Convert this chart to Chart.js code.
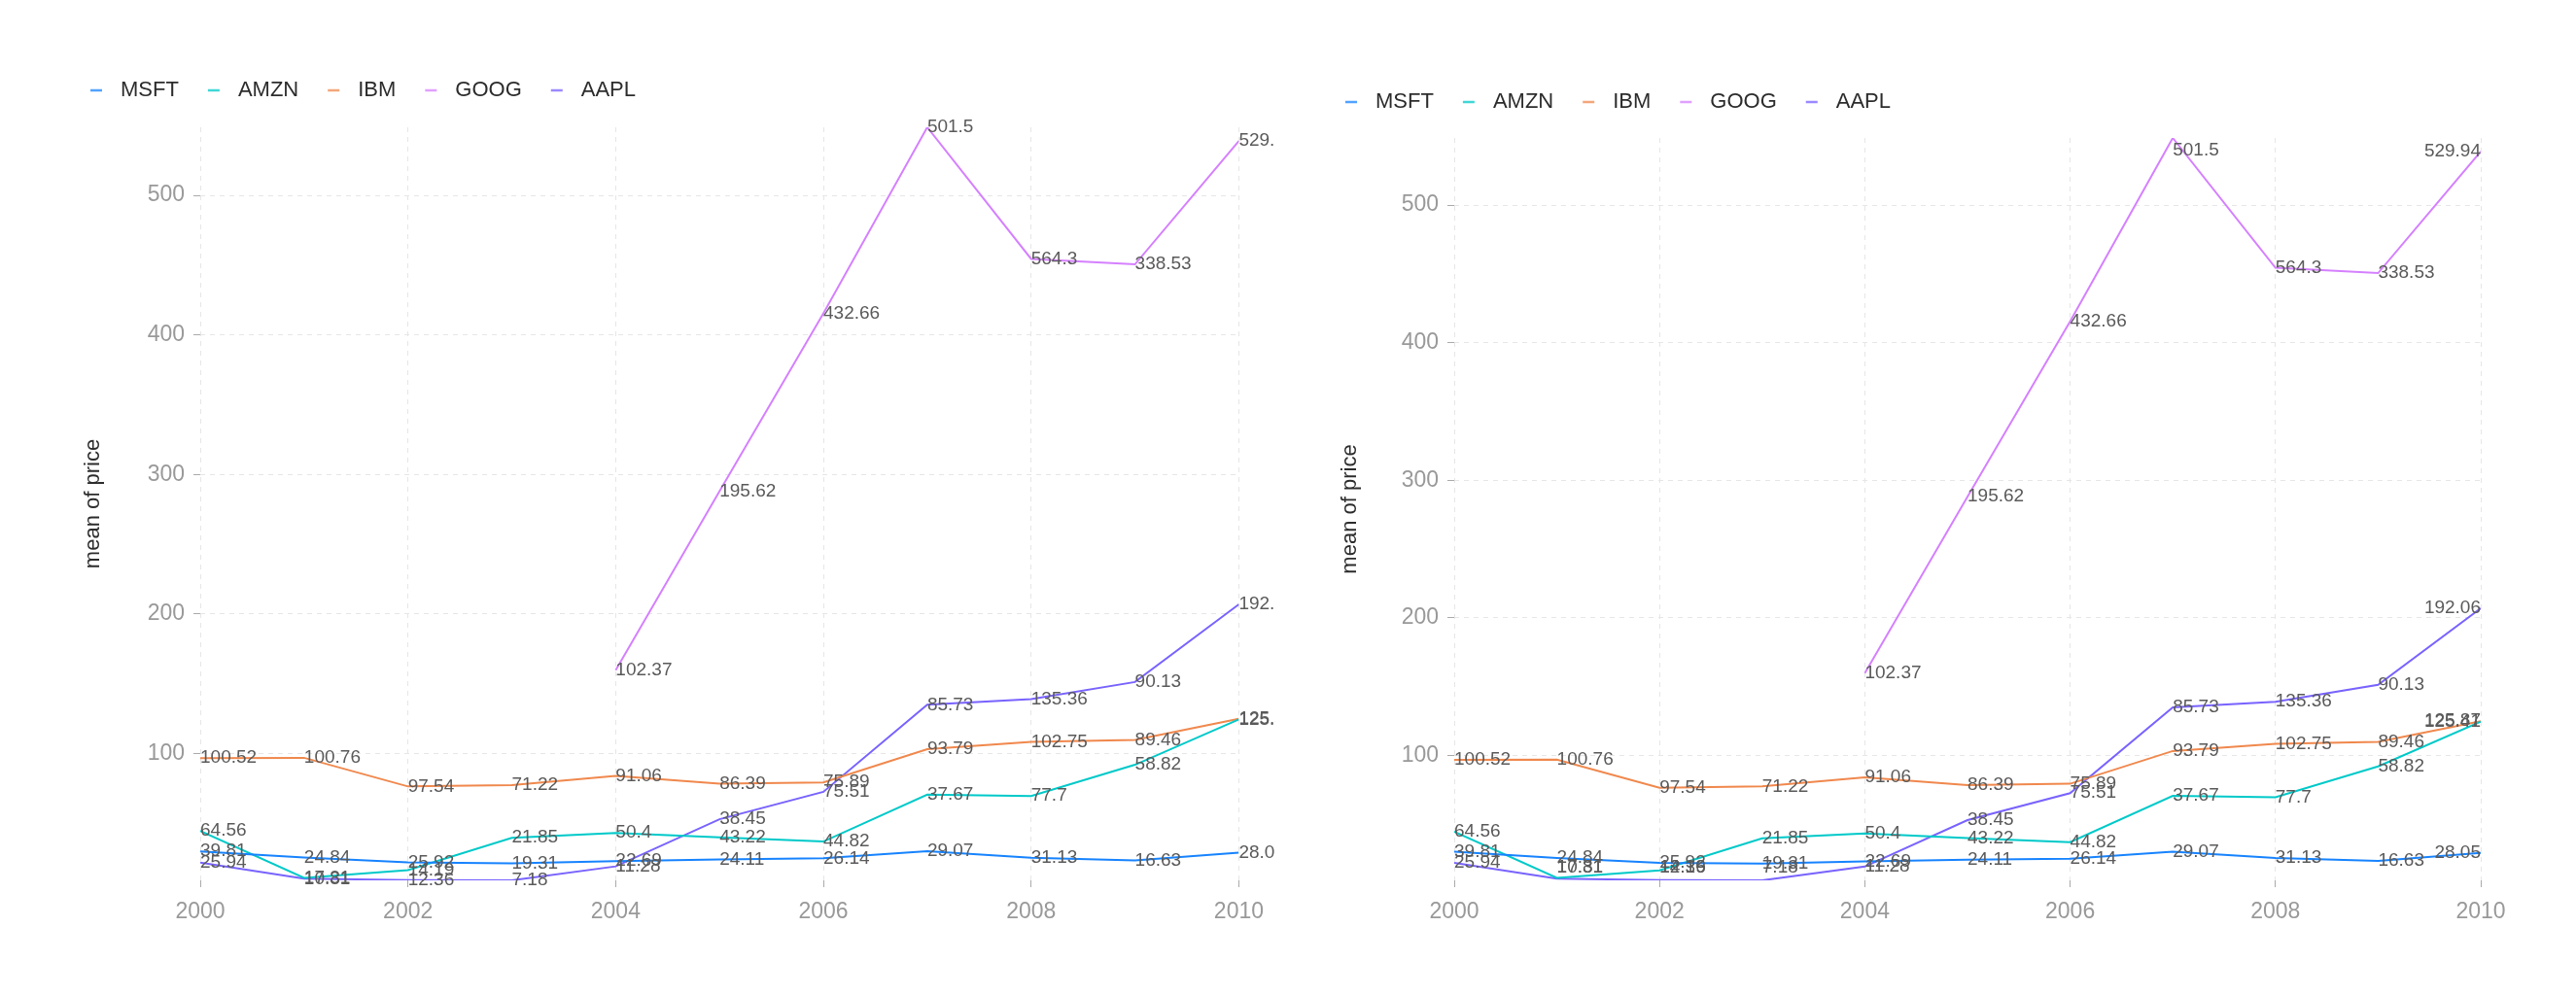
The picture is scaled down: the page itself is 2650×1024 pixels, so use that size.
<!DOCTYPE html>
<html lang="en">
<head>
  <meta charset="UTF-8" />
  <title>mean of price</title>
  <script src="https://cdn.jsdelivr.net/npm/chart.js@4"></script>
  <style>
    body { margin: 0; background: #fff; width: 2650px; height: 1024px; position: relative; overflow: hidden; }
    .box { position: absolute; top: 0; }
  </style>
</head>
<body>
  <div class="box" style="left:0"><canvas id="chartLeft" width="1312" height="1024"></canvas></div>
  <div class="box" style="left:1325px"><canvas id="chartRight" width="1325" height="1024"></canvas></div>

<script>
// years on the x axis
const years = [2000, 2001, 2002, 2003, 2004, 2005, 2006, 2007, 2008, 2009, 2010];
const xTicks = [2000, 2002, 2004, 2006, 2008, 2010];
const yTicks = [100, 200, 300, 400, 500];

const series = ['MSFT', 'AMZN', 'IBM', 'GOOG', 'AAPL'];
const colors = ['#1783FF', '#00C9C9', '#F0884D', '#D580FF', '#7863FF'];

// mean of price per year (line positions)
const msftMean = [30, 25.5, 22, 21.3, 23, 24.2, 25, 30, 25.4, 23.4, 29.1];
const amznMean = [44.6, 11, 16.5, 39.7, 43.2, 40, 37, 70.6, 69.6, 92, 124.5];
const ibmMean  = [96.8, 97, 76.5, 77.5, 84, 78.4, 79.4, 103.2, 108.4, 109.8, 124.9];
const googMean = [null, null, null, null, 159.8, 288, 415.5, 548.8, 454.5, 450.6, 539];
const aaplMean = [22, 10.4, 9.4, 9.2, 19.2, 53, 72.6, 135, 139, 151.3, 206.9];

// texts written next to each point
const msftText = ['39.81', '24.84', '25.92', '19.31', '22.69', '24.11', '26.14', '29.07', '31.13', '16.63', '28.05'];
const amznText = ['64.56', '17.31', '14.19', '21.85', '50.4', '43.22', '44.82', '37.67', '77.7', '58.82', '125.41'];
const ibmText  = ['100.52', '100.76', '97.54', '71.22', '91.06', '86.39', '75.89', '93.79', '102.75', '89.46', '125.87'];
const googText = [null, null, null, null, '102.37', '195.62', '432.66', '501.5', '564.3', '338.53', '529.94'];
const aaplText = ['25.94', '10.81', '12.36', '7.18', '11.28', '38.45', '75.51', '85.73', '135.36', '90.13', '192.06'];

const means = [msftMean, amznMean, ibmMean, googMean, aaplMean];
const texts = [msftText, amznText, ibmText, googText, aaplText];

const allVals = means.flat().filter(v => v != null);
const yMin = Math.min(...allVals);
const yMax = Math.max(...allVals);

const FONT = '"Liberation Sans", Arial, sans-serif';

// legend drawn by hand: short line + name
const topLegend = {
  id: 'topLegend',
  afterDraw(chart, args, opts) {
    const ctx = chart.ctx;
    ctx.save();
    ctx.font = '22px ' + FONT;
    ctx.textBaseline = 'middle';
    ctx.textAlign = 'left';
    let x = opts.x;
    series.forEach((name, i) => {
      ctx.strokeStyle = colors[i];
      ctx.globalAlpha = 0.75;
      ctx.lineWidth = 2.5;
      ctx.beginPath();
      ctx.moveTo(x - 6, opts.y);
      ctx.lineTo(x + 6, opts.y);
      ctx.stroke();
      ctx.globalAlpha = 1;
      ctx.fillStyle = '#2c2c2c';
      ctx.fillText(name, x + 25, opts.y);
      x += 25 + ctx.measureText(name).width + 36;
    });
    ctx.restore();
  }
};

// value texts next to points
const pointTexts = {
  id: 'pointTexts',
  afterDatasetsDraw(chart, args, opts) {
    const { ctx, chartArea } = chart;
    ctx.save();
    ctx.font = '19px ' + FONT;
    ctx.fillStyle = '#5a5a5a';
    ctx.textBaseline = 'middle';
    ctx.textAlign = 'left';
    chart.data.datasets.forEach((ds, di) => {
      const meta = chart.getDatasetMeta(di);
      meta.data.forEach((pt, j) => {
        const t = ds.pointText[j];
        if (!t || pt.skip) return;
        const w = ctx.measureText(t).width;
        let x = pt.x, y = pt.y;
        if (opts.keepInside) {
          const h = 13;
          if (x + w > chartArea.right) x = chartArea.right - w;
          if (y - h < chartArea.top) y = chartArea.top + h;
          if (y + h > chartArea.bottom) y = chartArea.bottom - h;
        }
        ctx.fillText(t, x, y);
      });
    });
    ctx.restore();
  }
};

function makeChart(id, cfg) {
  const datasets = series.map((name, i) => ({
    label: name,
    data: years.map((yr, j) => ({ x: yr, y: means[i][j] })),
    pointText: texts[i],
    borderColor: colors[i],
    backgroundColor: colors[i],
    borderWidth: 2,
    pointRadius: 0,
    tension: 0,
    spanGaps: false
  }));

  const grid = {
    color: '#e6e6e6',
    drawTicks: true,
    tickLength: 7,
    tickColor: '#aaaaaa',
    tickBorderDash: [],
    tickWidth: 1
  };

  return new Chart(document.getElementById(id), {
    type: 'line',
    data: { datasets },
    plugins: [topLegend, pointTexts],
    options: {
      responsive: false,
      animation: false,
      devicePixelRatio: 1,
      layout: { padding: cfg.padding },
      plugins: {
        legend: { display: false },
        tooltip: { enabled: false },
        topLegend: cfg.legend,
        pointTexts: { keepInside: cfg.keepInside }
      },
      scales: {
        x: {
          type: 'linear',
          min: years[0],
          max: years[years.length - 1],
          afterBuildTicks: s => { s.ticks = xTicks.map(v => ({ value: v })); },
          afterFit: s => { s.height = 60; },
          border: { display: false, dash: [5, 5] },
          grid: grid,
          ticks: {
            color: '#999999',
            font: { size: 23, family: FONT },
            padding: 12,
            maxRotation: 0,
            callback: v => String(v)
          }
        },
        y: {
          min: yMin,
          max: yMax,
          afterBuildTicks: s => { s.ticks = yTicks.map(v => ({ value: v })); },
          afterFit: s => { s.width = cfg.yWidth; },
          border: { display: false, dash: [5, 5] },
          grid: grid,
          ticks: {
            color: '#999999',
            font: { size: 23, family: FONT },
            padding: 9
          },
          title: {
            display: true,
            text: 'mean of price',
            color: '#2c2c2c',
            font: { size: 22, family: FONT },
            padding: 0
          }
        }
      }
    }
  });
}

// left: labels may run past the plot
makeChart('chartLeft', {
  padding: { left: 83, right: 33, top: 131, bottom: 58 },
  yWidth: 123,
  legend: { x: 99, y: 93 },
  keepInside: false
});

// right: labels kept inside the plot
makeChart('chartRight', {
  padding: { left: 51, right: 98, top: 142, bottom: 58 },
  yWidth: 120,
  legend: { x: 65, y: 105 },
  keepInside: true
});
</script>
</body>
</html>
